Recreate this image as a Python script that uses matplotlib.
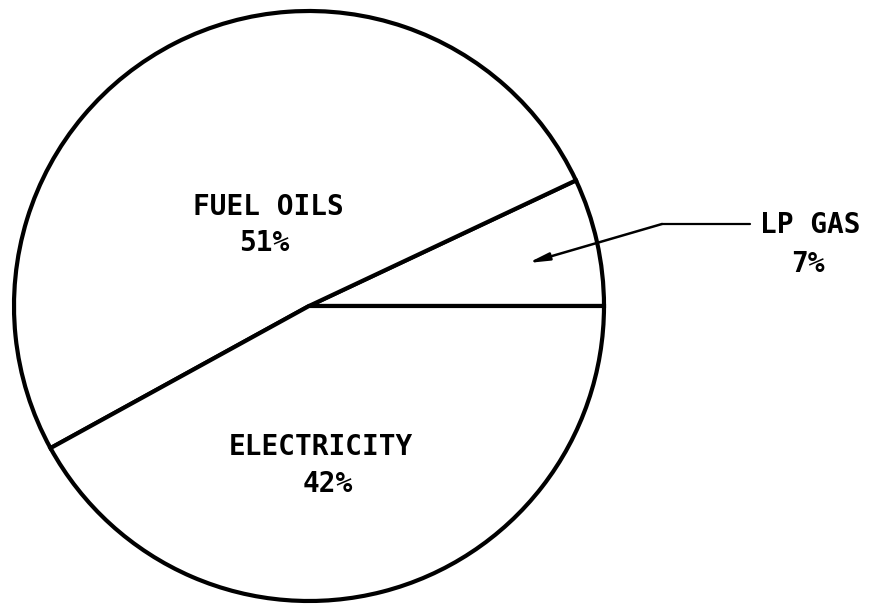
import numpy as np
import matplotlib
matplotlib.use("Agg")
import matplotlib.pyplot as plt

# slices, counter-clockwise from 3 o'clock
labels = ["LP GAS", "FUEL OILS", "ELECTRICITY"]
shares = [7, 51, 42]

W, H = 873, 605
fig = plt.figure(figsize=(W / 100, H / 100), dpi=100)
ax = fig.add_axes([0, 0, 1, 1])

# y axis is inverted below (pixel-like coords), so clockwise in data = ccw on screen
ax.pie(shares, startangle=0, counterclock=False, center=(309, 306), radius=295,
       colors=["white"] * 3,
       wedgeprops=dict(edgecolor="black", linewidth=3.0))
ax.set_xlim(0, W)
ax.set_ylim(H, 0)
ax.set_aspect("equal")
ax.axis("off")

font = dict(family="DejaVu Sans Mono", fontweight="bold", fontsize=20,
            ha="center", va="center", color="black")
ax.text(268, 207, labels[1], **font)
ax.text(264, 243, f"{shares[1]}%", **font)
ax.text(321, 447, labels[2], **font)
ax.text(328, 484, f"{shares[2]}%", **font)
ax.text(810, 225, labels[0], **font)
ax.text(808, 264, f"{shares[0]}%", **font)

# leader line + arrow into the small slice
ax.plot([750, 662], [224, 224], color="black", lw=1.6, solid_capstyle="round")
ax.annotate("", xy=(528, 263), xytext=(662, 224),
            arrowprops=dict(arrowstyle="-|>,head_length=1.2,head_width=0.22",
                            color="black", lw=1.8, shrinkA=0, shrinkB=0))

fig.savefig("out.png", dpi=100)
